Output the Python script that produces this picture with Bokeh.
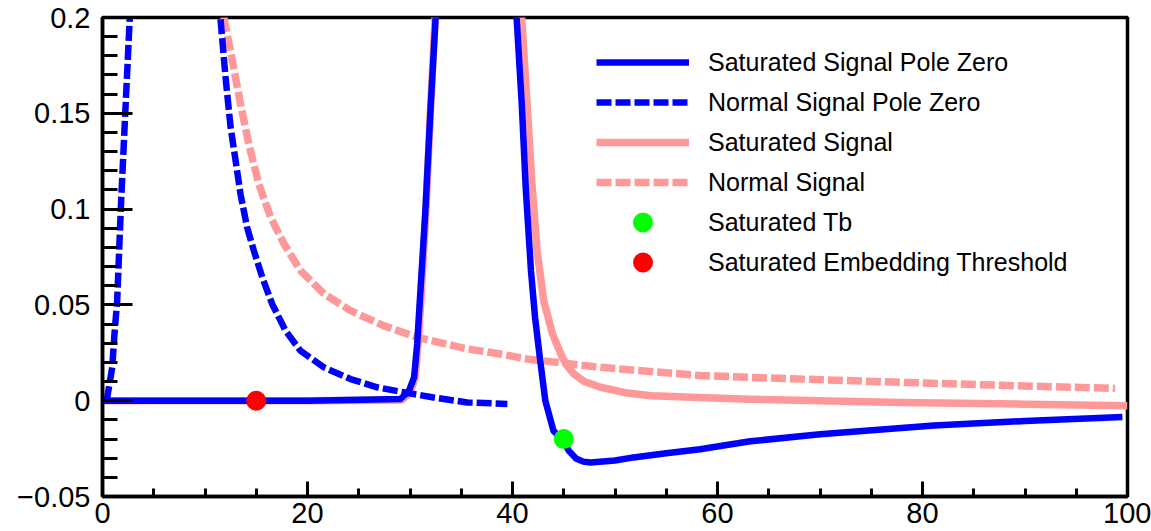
from bokeh.plotting import figure
from bokeh.models import Range1d, FixedTicker, Legend, LegendItem
from bokeh.embed import file_html
from bokeh.resources import INLINE

# ---------------- data ----------------
# Saturated Signal Pole Zero (blue, solid)
sat_pz_x = [0.0, 10.0, 20.0, 29.07, 29.9, 30.4, 30.7, 31.0, 31.5, 32.0, 32.5, 32.7,
            40.2, 40.4, 40.9, 41.3, 41.8, 42.2, 42.7, 43.2, 44.0, 44.85, 45.5, 46.2, 46.9, 47.6, 50.0,
            51.8, 55.0, 58.3, 63.2, 70.0, 81.1, 90.0, 99.5]
sat_pz_y = [0.0, 0.0, 0.0, 0.0009, 0.0052, 0.0122, 0.0296, 0.0558, 0.099, 0.152, 0.2, 0.22,
            0.22, 0.2, 0.155, 0.11, 0.068, 0.0435, 0.021, 0.0, -0.0157, -0.020, -0.0262, -0.0302,
            -0.0318, -0.0322, -0.0312, -0.0296, -0.0274, -0.0253, -0.0212, -0.0175, -0.0130, -0.0106,
            -0.0085]

# Normal Signal Pole Zero (blue, dashed)
norm_pz_x = [0.3, 0.46, 0.95, 1.17, 1.43, 1.82, 2.66, 2.8, 11.4, 11.5, 12.0, 12.49, 12.98, 13.46,
             14.1, 14.76, 15.58, 16.55, 17.85, 19.3, 21.6, 24.2, 26.8, 29.4, 32.3, 35.6, 39.5]
norm_pz_y = [0.0, 0.0017, 0.0174, 0.035, 0.052, 0.1046, 0.2, 0.22, 0.22, 0.2, 0.169, 0.143, 0.1255,
             0.108, 0.0906, 0.0784, 0.0645, 0.0505, 0.0366, 0.0261, 0.0174, 0.0113, 0.0070, 0.0044,
             0.0017, -0.0009, -0.0017]

# Saturated Signal (pink, solid)
sat_x = [0.0, 10.0, 20.0, 29.2, 30.0, 30.5, 30.8, 31.1, 31.55, 32.0, 32.45, 32.6,
         40.6, 40.9, 41.4, 41.9, 42.4, 43.05, 43.9, 44.85, 45.4, 46.0, 47.0, 48.6, 51.0, 53.5,
         58.3, 63.2, 70.0, 77.9, 90.0, 100.0]
sat_y = [0.0, 0.0, 0.0, 0.0004, 0.004, 0.012, 0.030, 0.056, 0.099, 0.152, 0.2, 0.22,
         0.22, 0.2, 0.157, 0.113, 0.078, 0.052, 0.0349, 0.0227, 0.0178, 0.0139, 0.0100, 0.0070, 0.0042,
         0.0026, 0.0017, 0.0008, 0.0, -0.0009, -0.0018, -0.0026]

# Normal Signal (pink, dashed)
norm_x = [11.7, 11.84, 12.65, 13.46, 14.27, 15.25, 16.4, 17.7, 19.3, 21.6, 24.2, 27.4, 30.7,
          35.6, 38.8, 41.4, 48.6, 58.3, 63.2, 70.0, 77.9, 88.0, 98.8]
norm_y = [0.21, 0.2, 0.178, 0.155, 0.134, 0.113, 0.0958, 0.0819, 0.068, 0.0558, 0.047, 0.0392,
          0.0331, 0.0270, 0.0244, 0.0218, 0.0174, 0.0131, 0.0122, 0.0110, 0.0096, 0.0080, 0.0064]

# Marker points
tb_x = [45.0]
tb_y = [-0.02]
thr_x = [15.0]
thr_y = [0.0]

legend_labels = ["Saturated Signal Pole Zero", "Normal Signal Pole Zero", "Saturated Signal",
                 "Normal Signal", "Saturated Tb", "Saturated Embedding Threshold"]

x_ticks = [0, 20, 40, 60, 80, 100]
x_minor_ticks = [v for v in range(0, 101, 5)]
y_ticks = [-0.05, 0, 0.05, 0.1, 0.15, 0.2]
y_tick_labels = ["\u22120.05", "0", "0.05", "0.1", "0.15", "0.2"]
y_minor_ticks = [round(-0.05 + 0.01 * i, 2) for i in range(26)]

# ---------------- styling ----------------
BLUE = "#0000ff"
PINK = "#ff9999"
GREEN = "#00ff00"
RED = "#ff0000"
FONT = "Liberation Sans"

p = figure(width=1151, height=531, x_range=Range1d(0, 100), y_range=Range1d(-0.05, 0.2),
           output_backend="svg", toolbar_location=None,
           min_border_left=102, min_border_right=24, min_border_top=17, min_border_bottom=35)
p.background_fill_color = "white"
p.border_fill_color = "white"
p.outline_line_color = "black"
p.outline_line_width = 3.5
p.xgrid.visible = False
p.ygrid.visible = False

xa = p.xaxis[0]
xa.ticker = FixedTicker(ticks=x_ticks, minor_ticks=x_minor_ticks)
xa.major_tick_in = 15
xa.major_tick_out = 0
xa.minor_tick_in = 8
xa.minor_tick_out = 0
xa.axis_line_width = 3.5
xa.major_tick_line_width = 3
xa.minor_tick_line_width = 3
xa.major_label_text_font = FONT
xa.major_label_text_font_size = "29px"
xa.major_label_text_color = "black"
xa.major_label_text_line_height = 1.0
xa.major_label_standoff = 6

ya = p.yaxis[0]
ya.ticker = FixedTicker(ticks=y_ticks, minor_ticks=y_minor_ticks)
ya.major_label_overrides = dict(zip(y_ticks, y_tick_labels))
ya.major_tick_in = 30
ya.major_tick_out = 0
ya.minor_tick_in = 15
ya.minor_tick_out = 0
ya.axis_line_width = 3.5
ya.major_tick_line_width = 3
ya.minor_tick_line_width = 3
ya.major_label_text_font = FONT
ya.major_label_text_font_size = "29px"
ya.major_label_text_color = "black"
ya.major_label_standoff = 12

r_sat = p.line(sat_x, sat_y, line_color=PINK, line_width=7.5, line_join="round")
r_norm = p.line(norm_x, norm_y, line_color=PINK, line_width=7.5, line_dash="15 4")
r_sat_pz = p.line(sat_pz_x, sat_pz_y, line_color=BLUE, line_width=6.5, line_join="round")
r_norm_pz = p.line(norm_pz_x, norm_pz_y, line_color=BLUE, line_width=6.5, line_dash="15 4")
r_tb = p.scatter(tb_x, tb_y, size=16, line_width=4, fill_color=GREEN, line_color=GREEN)
r_thr = p.scatter(thr_x, thr_y, size=16, line_width=4, fill_color=RED, line_color=RED)

renderers = [r_sat_pz, r_norm_pz, r_sat, r_norm, r_tb, r_thr]
items = [LegendItem(label=lab, renderers=[r]) for lab, r in zip(legend_labels, renderers)]
legend = Legend(items=items, location=(494, 214), orientation="vertical",
                glyph_width=93, glyph_height=40, label_height=40, spacing=0,
                padding=0, margin=0, label_standoff=19,
                label_text_font=FONT, label_text_font_size="25px", label_text_color="black",
                border_line_alpha=0, background_fill_alpha=0)
p.add_layout(legend)

open("out.html", "w").write(file_html(p, INLINE))
